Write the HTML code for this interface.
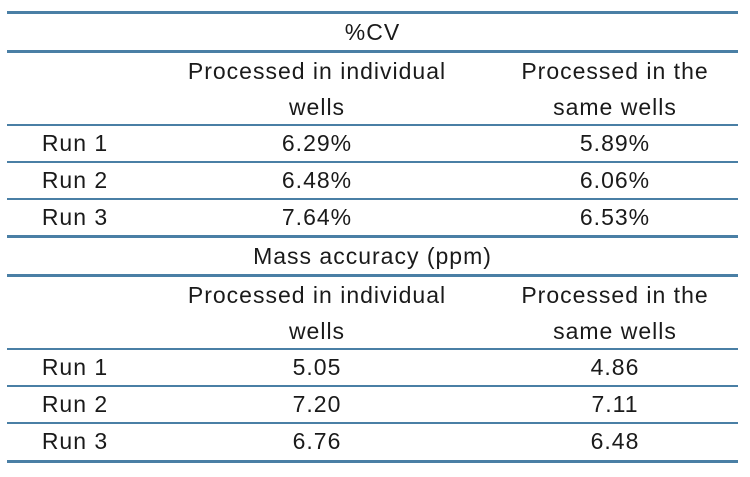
<!DOCTYPE html><html><head><style>
body{margin:0;width:750px;height:477px;background:#fff;position:relative;font-family:"Liberation Sans",sans-serif;color:#1a1a1a;font-size:23px;letter-spacing:1px;overflow:hidden}
.l{position:absolute;left:7px;width:731px;background:#4a7fa5}
.t{position:absolute;text-align:center;line-height:36px;white-space:nowrap}
.c0{left:20px;width:110px}.c1{left:176px;width:282px}.c2{left:490px;width:250px}.w{left:7px;width:731px}
</style></head><body>
<div class="l" style="top:11px;height:3px"></div>
<div class="l" style="top:50px;height:3px"></div>
<div class="l" style="top:124px;height:2px"></div>
<div class="l" style="top:161px;height:2px"></div>
<div class="l" style="top:198px;height:2px"></div>
<div class="l" style="top:235px;height:3px"></div>
<div class="l" style="top:274px;height:3px"></div>
<div class="l" style="top:348px;height:2px"></div>
<div class="l" style="top:385px;height:2px"></div>
<div class="l" style="top:422px;height:2px"></div>
<div class="l" style="top:460px;height:3px"></div>
<div class="t w" style="top:14px">%CV</div>
<div class="t c1" style="top:53px">Processed in individual<br>wells</div>
<div class="t c2" style="top:53px">Processed in the<br>same wells</div>
<div class="t c0" style="top:125px">Run 1</div><div class="t c1" style="top:125px">6.29%</div><div class="t c2" style="top:125px">5.89%</div>
<div class="t c0" style="top:162px">Run 2</div><div class="t c1" style="top:162px">6.48%</div><div class="t c2" style="top:162px">6.06%</div>
<div class="t c0" style="top:199px">Run 3</div><div class="t c1" style="top:199px">7.64%</div><div class="t c2" style="top:199px">6.53%</div>
<div class="t w" style="top:238px">Mass accuracy (ppm)</div>
<div class="t c1" style="top:277px">Processed in individual<br>wells</div>
<div class="t c2" style="top:277px">Processed in the<br>same wells</div>
<div class="t c0" style="top:349px">Run 1</div><div class="t c1" style="top:349px">5.05</div><div class="t c2" style="top:349px">4.86</div>
<div class="t c0" style="top:386px">Run 2</div><div class="t c1" style="top:386px">7.20</div><div class="t c2" style="top:386px">7.11</div>
<div class="t c0" style="top:423px">Run 3</div><div class="t c1" style="top:423px">6.76</div><div class="t c2" style="top:423px">6.48</div>
</body></html>
